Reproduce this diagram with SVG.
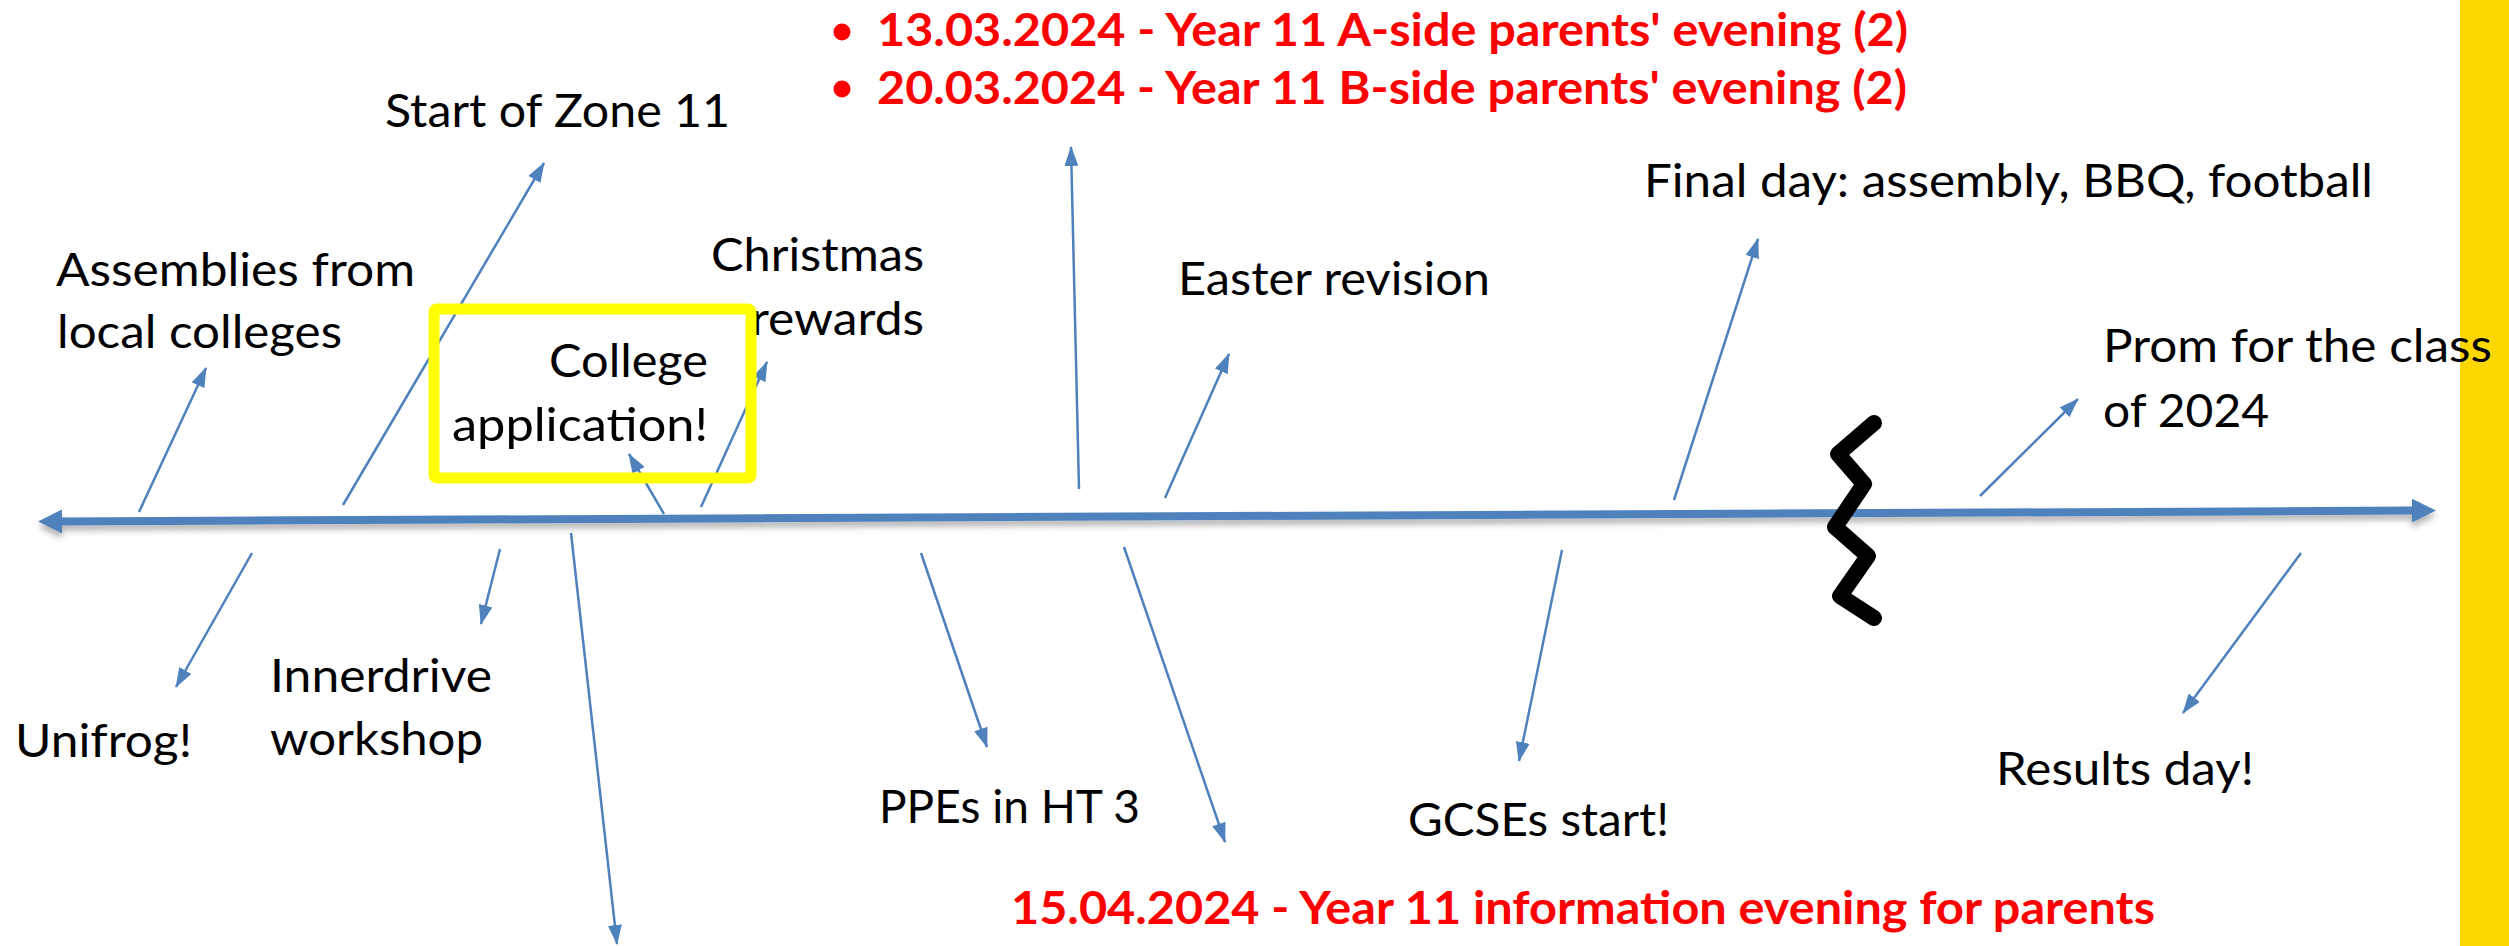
<svg xmlns="http://www.w3.org/2000/svg" width="2509" height="946" viewBox="0 0 2509 946">
<style>
.t{font-family:Lato,"Liberation Sans",sans-serif;font-size:46px;fill:#000}
.r{font-family:Lato,"Liberation Sans",sans-serif;font-size:46px;font-weight:bold;fill:#FF0000}
.c{stroke:#4F81BD;stroke-width:2.5;fill:none;marker-end:url(#ah)}
</style>
<defs>
<marker id="ah" markerUnits="userSpaceOnUse" markerWidth="20" markerHeight="14" viewBox="0 0 20 14" refX="19" refY="7" orient="auto">
<path d="M0,0 L20,7 L0,14 z" fill="#4F81BD"/>
</marker>
<marker id="big" markerUnits="userSpaceOnUse" markerWidth="24" markerHeight="24" viewBox="0 0 24 24" refX="1" refY="12" orient="auto-start-reverse">
<path d="M0,0 L24,12 L0,24 z" fill="#4F81BD"/>
</marker>
<filter id="sh" x="-5%" y="-200%" width="110%" height="500%">
<feDropShadow dx="0" dy="5" stdDeviation="3" flood-color="#000" flood-opacity="0.3"/>
</filter>
</defs>
<rect width="2509" height="946" fill="#fff"/>
<rect x="2460" y="0" width="49" height="946" fill="#FFD700"/>

<g id="axis" filter="url(#sh)">
<path d="M61,521.4 L2413,510.6" stroke="#4F81BD" stroke-width="8" fill="none" marker-start="url(#big)" marker-end="url(#big)"/>
</g>

<g id="connectors">
<path class="c" d="M139,512 L206,368"/>
<path class="c" d="M343,505 L544,163"/>
<path class="c" d="M664,514 L629,454"/>
<path class="c" d="M701,507 L767,362"/>
<path class="c" d="M1079,489 L1071,147"/>
<path class="c" d="M1165,498 L1229,354"/>
<path class="c" d="M1674,500 L1758,239"/>
<path class="c" d="M1980,496 L2078,399"/>
<path class="c" d="M252,553 L176,687"/>
<path class="c" d="M500,549 L481,624"/>
<path class="c" d="M571,533 L617,944"/>
<path class="c" d="M921,553 L987,747"/>
<path class="c" d="M1124,547 L1225,842"/>
<path class="c" d="M1562,550 L1519,761"/>
<path class="c" d="M2301,553 L2183,713"/>
</g>

<g id="break">
<path d="M1874,423 L1838,454 L1864,484 L1835,527 L1868,556 L1840,596 L1874,618" stroke="#000" stroke-width="16" fill="none" stroke-linecap="round" stroke-linejoin="round"/>
</g>

<g id="parents-evenings">
<circle cx="842" cy="32" r="8.5" fill="#FF0000"/>
<text class="r" x="877" y="46" textLength="1031" lengthAdjust="spacingAndGlyphs">13.03.2024 - Year 11 A-side parents' evening (2)</text>
<circle cx="842" cy="89" r="8.5" fill="#FF0000"/>
<text class="r" x="877" y="104" textLength="1030" lengthAdjust="spacingAndGlyphs">20.03.2024 - Year 11 B-side parents' evening (2)</text>
</g>
<g id="info-evening">
<text class="r" x="1011" y="924" textLength="1144" lengthAdjust="spacingAndGlyphs">15.04.2024 - Year 11 information evening for parents</text>
</g>

<g id="zone11"><text class="t" x="385" y="127" textLength="345" lengthAdjust="spacingAndGlyphs">Start of Zone 11</text></g>
<g id="assemblies">
<text class="t" x="56" y="286" textLength="359" lengthAdjust="spacingAndGlyphs">Assemblies from</text>
<text class="t" x="57" y="348" textLength="285" lengthAdjust="spacingAndGlyphs">local colleges</text>
</g>
<g id="christmas">
<text class="t" x="711" y="271" textLength="213" lengthAdjust="spacingAndGlyphs">Christmas</text>
<text class="t" x="751" y="335" textLength="173" lengthAdjust="spacingAndGlyphs">rewards</text>
</g>
<g id="college">
<rect x="434" y="309" width="317" height="169" rx="3" fill="none" stroke="#FFFF00" stroke-width="11"/>
<text class="t" x="549" y="377" textLength="159" lengthAdjust="spacingAndGlyphs">College</text>
<text class="t" x="452" y="441" textLength="256" lengthAdjust="spacingAndGlyphs">application!</text>
</g>
<g id="easter"><text class="t" x="1178" y="295" textLength="312" lengthAdjust="spacingAndGlyphs">Easter revision</text></g>
<g id="finalday"><text class="t" x="1644" y="197" textLength="729" lengthAdjust="spacingAndGlyphs">Final day: assembly, BBQ, football</text></g>
<g id="prom">
<text class="t" x="2103" y="362" textLength="389" lengthAdjust="spacingAndGlyphs">Prom for the class</text>
<text class="t" x="2103" y="427" textLength="166" lengthAdjust="spacingAndGlyphs">of 2024</text>
</g>
<g id="unifrog"><text class="t" x="15" y="757" textLength="177" lengthAdjust="spacingAndGlyphs">Unifrog!</text></g>
<g id="innerdrive">
<text class="t" x="270" y="692" textLength="222" lengthAdjust="spacingAndGlyphs">Innerdrive</text>
<text class="t" x="270" y="755" textLength="213" lengthAdjust="spacingAndGlyphs">workshop</text>
</g>
<g id="ppes"><text class="t" x="879" y="823" textLength="261" lengthAdjust="spacingAndGlyphs">PPEs in HT 3</text></g>
<g id="gcses"><text class="t" x="1408" y="836" textLength="261" lengthAdjust="spacingAndGlyphs">GCSEs start!</text></g>
<g id="results"><text class="t" x="1996" y="785" textLength="258" lengthAdjust="spacingAndGlyphs">Results day!</text></g>
</svg>
